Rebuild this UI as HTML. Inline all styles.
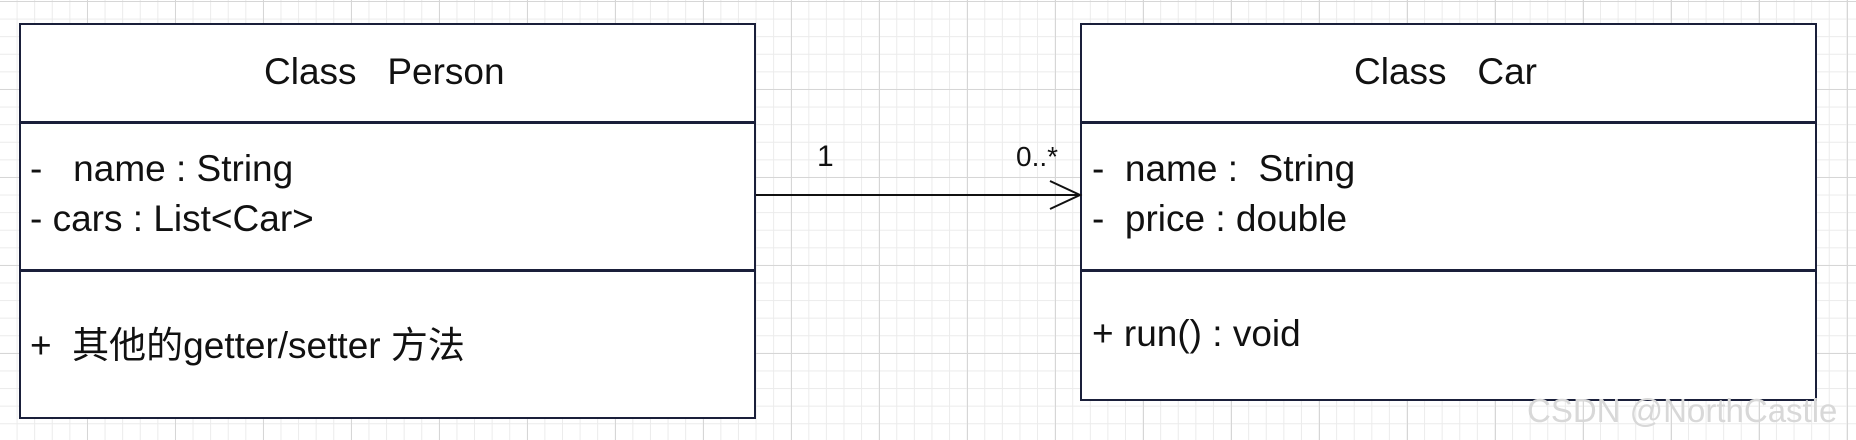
<!DOCTYPE html>
<html><head><meta charset="utf-8"><style>
html,body{margin:0;padding:0}
body{width:1856px;height:440px;overflow:hidden;position:relative;background:#fff;
background-image:linear-gradient(#d6d6d6 1px,transparent 1px),linear-gradient(90deg,#d6d6d6 1px,transparent 1px),linear-gradient(#ebebeb 1px,transparent 1px),linear-gradient(90deg,#ebebeb 1px,transparent 1px);
background-size:88px 88px,88px 88px,17.6px 17.6px,17.6px 17.6px;background-position:-1px 1px;
font-family:"Liberation Sans","Noto Sans CJK SC",sans-serif;color:#111}
.box{position:absolute;background:#fff;border:2px solid #1a1f3a;box-sizing:border-box}
.hr{position:absolute;left:0;right:0;height:0;border-top:3px solid #1a1f3a}
.t{position:absolute;white-space:pre;font-size:37px;line-height:1}
</style></head><body>
<div class="box" style="left:19px;top:23px;width:737px;height:396px">
 <div class="hr" style="top:96px"></div>
 <div class="hr" style="top:244px"></div>
</div>
<div class="box" style="left:1080px;top:23px;width:737px;height:378px">
 <div class="hr" style="top:96px"></div>
 <div class="hr" style="top:244px"></div>
</div>
<div class="t" style="left:264px;top:53px">Class   Person</div>
<div class="t" style="left:30px;top:150px">-   name : String</div>
<div class="t" style="left:30px;top:200px">- cars : List&lt;Car&gt;</div>
<div class="t" style="left:30px;top:327px">+  其他的getter/setter 方法</div>
<div class="t" style="left:1354px;top:53px">Class   Car</div>
<div class="t" style="left:1092px;top:150px">-  name :  String</div>
<div class="t" style="left:1092px;top:200px">-  price : double</div>
<div class="t" style="left:1092px;top:315px">+ run() : void</div>
<svg style="position:absolute;left:0;top:0" width="1856" height="440">
<line x1="756" y1="195" x2="1080" y2="195" stroke="#111" stroke-width="2"/>
<polyline points="1050,181 1080,195 1050,209" fill="none" stroke="#111" stroke-width="2"/>
</svg>
<div class="t" style="left:817px;top:142px;font-size:30px">1</div>
<div class="t" style="left:1016px;top:143px;font-size:28px">0..*</div>
<div class="t" style="left:1527px;top:394px;font-size:33px;color:#d8d8d8">CSDN @NorthCastle</div>
</body></html>
